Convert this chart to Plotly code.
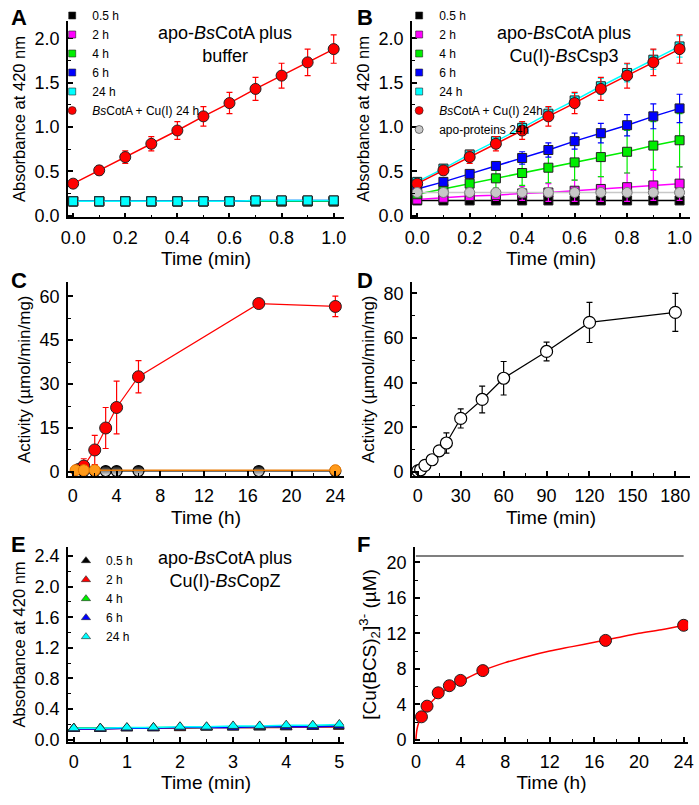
import plotly.graph_objects as go

# ── data ───────────────────────────────────────────────────────────────────────
t_min = [0.0, 0.1, 0.2, 0.3, 0.4, 0.5, 0.6, 0.7, 0.8, 0.9, 1.0]
labels_h = ["0.5 h", "2 h", "4 h", "6 h", "24 h"]
colors_h = ["#000000", "#FF00FF", "#00EE00", "#0000FF", "#00FFFF"]

# panel A: apo-BsCotA plus buffer
a_sq = [
    [0.16] * 11,
    [0.16] * 11,
    [0.16] * 11,
    [0.16, 0.16, 0.16, 0.16, 0.16, 0.16, 0.16, 0.17, 0.17, 0.17, 0.17],
    [0.16, 0.16, 0.16, 0.16, 0.16, 0.16, 0.16, 0.17, 0.17, 0.17, 0.17],
]
red_cu = [0.36, 0.51, 0.66, 0.81, 0.96, 1.12, 1.27, 1.43, 1.58, 1.73, 1.88]
red_cu_err = [0.03, 0.05, 0.07, 0.08, 0.10, 0.11, 0.12, 0.13, 0.14, 0.15, 0.16]

# panel B: apo-BsCotA plus Cu(I)-BsCsp3
b_sq = [
    [0.17] * 11,
    [0.18, 0.20, 0.22, 0.23, 0.25, 0.26, 0.28, 0.30, 0.32, 0.34, 0.36],
    [0.24, 0.30, 0.36, 0.42, 0.48, 0.54, 0.60, 0.66, 0.72, 0.79, 0.85],
    [0.30, 0.38, 0.47, 0.56, 0.65, 0.74, 0.84, 0.93, 1.02, 1.12, 1.21],
    [0.38, 0.53, 0.69, 0.84, 0.99, 1.15, 1.30, 1.46, 1.61, 1.76, 1.91],
]
b_sq_err = [
    [0.01] * 11,
    [0.02, 0.03, 0.04, 0.06, 0.08, 0.10, 0.12, 0.14, 0.16, 0.17, 0.19],
    [0.03, 0.05, 0.08, 0.11, 0.14, 0.17, 0.20, 0.22, 0.24, 0.27, 0.30],
    [0.02, 0.03, 0.04, 0.05, 0.07, 0.08, 0.09, 0.11, 0.12, 0.14, 0.16],
    [0.03, 0.03, 0.04, 0.05, 0.06, 0.07, 0.08, 0.09, 0.10, 0.11, 0.12],
]
apo_24h = [0.26] * 11
apo_24h_err = [0.01] * 11

# panel C: activity vs incubation time
c_t = [0.5, 1, 2, 3, 4, 6, 17, 24]
c_red = [0.8, 2.0, 7.5, 15.0, 22.0, 32.5, 57.5, 56.5]
c_red_err = [0.5, 2.5, 5.0, 7.0, 9.0, 5.5, 0.5, 3.5]
c_black = [0.3, 0.3, 0.3, 0.3, 0.3, 0.3, 0.3, 0.3]
c_orange_t = [0.25, 1, 2, 24]
c_orange = [0.6, 0.6, 0.6, 0.6]

# panel D: activity vs time (min)
d_t = [0, 2, 5, 10, 15, 20, 30, 45, 60, 90, 120, 180]
d_act = [0.5, 1.0, 3.0, 5.5, 9.5, 13.0, 24.0, 32.5, 42.0, 54.0, 67.0, 71.5]
d_err = [0.5, 1.0, 1.0, 1.0, 2.0, 4.5, 4.3, 6.0, 7.5, 4.2, 9.0, 8.5]

# panel E: apo-BsCotA plus Cu(I)-BsCopZ
e_t = [0.0, 0.5, 1.0, 1.5, 2.0, 2.5, 3.0, 3.5, 4.0, 4.5, 5.0]
colors_e = ["#000000", "#FF0000", "#00EE00", "#0000FF", "#00FFFF"]
e_tri = [
    [0.15, 0.15, 0.15, 0.15, 0.16, 0.16, 0.16, 0.16, 0.17, 0.17, 0.17],
    [0.14, 0.14, 0.15, 0.15, 0.15, 0.16, 0.16, 0.16, 0.16, 0.17, 0.17],
    [0.15, 0.15, 0.15, 0.16, 0.16, 0.16, 0.17, 0.17, 0.17, 0.18, 0.18],
    [0.14, 0.14, 0.15, 0.15, 0.16, 0.16, 0.16, 0.17, 0.17, 0.17, 0.18],
    [0.15, 0.15, 0.16, 0.16, 0.17, 0.17, 0.18, 0.18, 0.19, 0.19, 0.20],
]

# panel F: [Cu(BCS)2]3- release
f_t = [0.5, 1, 2, 3, 4, 6, 17, 24]
f_cu = [2.6, 3.8, 5.3, 6.1, 6.7, 7.8, 11.2, 12.9]
fit_t = [0, 0.1, 0.25, 0.5, 1, 1.5, 2, 3, 4, 5, 6, 8, 10, 12, 14, 16, 18, 20, 22, 24]
fit_cu = [0, 1.2, 1.9, 2.6, 3.6, 4.4, 5.0, 5.9, 6.6, 7.2, 7.8, 8.7, 9.4, 10.0,
          10.5, 11.0, 11.5, 12.0, 12.4, 12.9]
total_t = [0, 24]
total_cu = [20.7, 20.7]

FONT = "Arial, Liberation Sans, sans-serif"
OUTLINE = dict(color="#222222", width=1)


def err(vals, color):
    return dict(type="data", array=vals, visible=True, color=color,
                thickness=1.2, width=3)


def legend_dummy(fig, name, symbol, color, xa, ya, legend, size=7):
    fig.add_trace(go.Scatter(x=[None], y=[None], mode="markers", name=name,
                             marker=dict(symbol=symbol, color=color, size=size,
                                         line=dict(color="#222222", width=0.6)),
                             xaxis=xa, yaxis=ya, legend=legend))


fig = go.Figure()

# ── panel A ────────────────────────────────────────────────────────────────────
for i, ys in enumerate(a_sq):
    fig.add_trace(go.Scatter(x=t_min, y=ys, mode="lines+markers",
                             line=dict(color=colors_h[i], width=1.5),
                             marker=dict(symbol="square", size=9, color=colors_h[i], line=OUTLINE),
                             error_y=err([0.01] * 11, colors_h[i]),
                             showlegend=False, xaxis="x", yaxis="y"))
fig.add_trace(go.Scatter(x=t_min, y=red_cu, mode="lines+markers",
                         line=dict(color="#FF0000", width=1.5),
                         marker=dict(symbol="circle", size=11, color="#FF0000", line=OUTLINE),
                         error_y=err(red_cu_err, "#FF0000"),
                         showlegend=False, xaxis="x", yaxis="y"))
for i, lab in enumerate(labels_h):
    legend_dummy(fig, lab, "square", colors_h[i], "x", "y", "legend")
legend_dummy(fig, "<i>Bs</i>CotA + Cu(I) 24 h", "circle", "#FF0000", "x", "y", "legend", 8)

# ── panel B ────────────────────────────────────────────────────────────────────
for i, ys in enumerate(b_sq):
    fig.add_trace(go.Scatter(x=t_min, y=ys, mode="lines+markers",
                             line=dict(color=colors_h[i], width=1.5),
                             marker=dict(symbol="square", size=9, color=colors_h[i], line=OUTLINE),
                             error_y=err(b_sq_err[i], colors_h[i]),
                             showlegend=False, xaxis="x2", yaxis="y2"))
fig.add_trace(go.Scatter(x=t_min, y=red_cu, mode="lines+markers",
                         line=dict(color="#FF0000", width=1.5),
                         marker=dict(symbol="circle", size=11, color="#FF0000", line=OUTLINE),
                         error_y=err(red_cu_err, "#FF0000"),
                         showlegend=False, xaxis="x2", yaxis="y2"))
fig.add_trace(go.Scatter(x=t_min, y=apo_24h, mode="lines+markers",
                         line=dict(color="#C8C8C8", width=1.5),
                         marker=dict(symbol="circle", size=10, color="#C8C8C8",
                                     line=dict(color="#777777", width=1)),
                         error_y=err(apo_24h_err, "#999999"),
                         showlegend=False, xaxis="x2", yaxis="y2"))
for i, lab in enumerate(labels_h):
    legend_dummy(fig, lab, "square", colors_h[i], "x2", "y2", "legend2")
legend_dummy(fig, "<i>Bs</i>CotA + Cu(I) 24h", "circle", "#FF0000", "x2", "y2", "legend2", 8)
legend_dummy(fig, "apo-proteins 24h", "circle", "#C8C8C8", "x2", "y2", "legend2", 8)

# ── panel C ────────────────────────────────────────────────────────────────────
fig.add_trace(go.Scatter(x=c_t, y=c_red, mode="lines+markers",
                         line=dict(color="#FF0000", width=1.2),
                         marker=dict(symbol="circle", size=12, color="#FF0000", line=OUTLINE),
                         error_y=err(c_red_err, "#FF0000"),
                         showlegend=False, xaxis="x3", yaxis="y3"))
# half-filled circles: dark top fading to white bottom
fig.add_trace(go.Scatter(x=c_t, y=c_black, mode="lines+markers",
                         line=dict(color="#000000", width=1),
                         marker=dict(symbol="circle", size=11, color="#000000",
                                     gradient=dict(type="vertical", color="#FFFFFF"),
                                     line=dict(color="#000000", width=1.2)),
                         showlegend=False, xaxis="x3", yaxis="y3"))
fig.add_trace(go.Scatter(x=c_orange_t, y=c_orange, mode="lines+markers",
                         line=dict(color="#E87800", width=1.5),
                         marker=dict(symbol="circle", size=11, color="#FF9A1A",
                                     line=dict(color="#E87800", width=1)),
                         showlegend=False, xaxis="x3", yaxis="y3"))

# ── panel D ────────────────────────────────────────────────────────────────────
fig.add_trace(go.Scatter(x=d_t, y=d_act, mode="lines+markers",
                         line=dict(color="#000000", width=1.2),
                         marker=dict(symbol="circle", size=12, color="#FFFFFF",
                                     line=dict(color="#000000", width=1.2)),
                         error_y=err(d_err, "#000000"),
                         showlegend=False, xaxis="x4", yaxis="y4"))

# ── panel E ────────────────────────────────────────────────────────────────────
for i, ys in enumerate(e_tri):
    fig.add_trace(go.Scatter(x=e_t, y=ys, mode="lines+markers",
                             line=dict(color=colors_e[i], width=1.5),
                             marker=dict(symbol="triangle-up", size=10, color=colors_e[i],
                                         line=dict(color="#222222", width=0.8)),
                             error_y=err([0.01] * 11, colors_e[i]),
                             showlegend=False, xaxis="x5", yaxis="y5"))
for i, lab in enumerate(labels_h):
    legend_dummy(fig, lab, "triangle-up", colors_e[i], "x5", "y5", "legend3", 8)

# ── panel F ────────────────────────────────────────────────────────────────────
fig.add_trace(go.Scatter(x=total_t, y=total_cu, mode="lines",
                         line=dict(color="#000000", width=1.2),
                         showlegend=False, xaxis="x6", yaxis="y6"))
fig.add_trace(go.Scatter(x=fit_t, y=fit_cu, mode="lines",
                         line=dict(color="#FF0000", width=1.5, shape="spline"),
                         showlegend=False, xaxis="x6", yaxis="y6"))
fig.add_trace(go.Scatter(x=f_t, y=f_cu, mode="markers",
                         marker=dict(symbol="circle", size=12, color="#FF0000", line=OUTLINE),
                         showlegend=False, xaxis="x6", yaxis="y6"))

# ── axes ───────────────────────────────────────────────────────────────────────
W, H = 699, 805


def xdom(l, r):
    return [l / W, r / W]


def ydom(top, bottom):
    return [1 - bottom / H, 1 - top / H]


def axis(dom, rng, dtick, minor, title, fmt=None, tsize=19, standoff=5):
    a = dict(domain=dom, range=rng, dtick=dtick, tick0=0, showline=True,
             linecolor="black", linewidth=1.5, ticks="inside", ticklen=5,
             tickwidth=1.5, tickcolor="black", showgrid=False, zeroline=False,
             tickfont=dict(size=18, color="black"), ticklabelstandoff=3,
             minor=dict(dtick=minor, tick0=0, ticks="inside", ticklen=3,
                        tickwidth=1.2, tickcolor="black", showgrid=False),
             title=dict(text=title, font=dict(size=tsize, color="black"), standoff=standoff))
    if fmt:
        a["tickformat"] = fmt
    return a


xa_dom, xb_dom = xdom(62, 343), xdom(412, 695)
top_row, mid_row, bot_row = ydom(20, 219), ydom(285, 481), ydom(553, 750)
ABS = "Absorbance at 420 nm"

layout_axes = dict(
    xaxis=axis(xa_dom, [-0.02, 1.04], 0.2, 0.1, "Time (min)", ".1f"),
    yaxis=axis(top_row, [-0.02, 2.2], 0.5, 0.25, ABS, ".1f", tsize=16.5),
    xaxis2=dict(axis(xb_dom, [-0.02, 1.04], 0.2, 0.1, "Time (min)", ".1f"), anchor="y2"),
    yaxis2=dict(axis(top_row, [-0.02, 2.2], 0.5, 0.25, ABS, ".1f", tsize=16.5), anchor="x2"),
    xaxis3=dict(axis(xa_dom, [-0.45, 24.8], 4, 2, "Time (h)"), anchor="y3"),
    yaxis3=dict(axis(mid_row, [-1.4, 64.7], 15, 7.5, "Activity (µmol/min/mg)", tsize=17), anchor="x3"),
    xaxis4=dict(axis(xb_dom, [-4.1, 190.3], 30, 15, "Time (min)"), anchor="y4"),
    yaxis4=dict(axis(mid_row, [-1.8, 84.9], 20, 10, "Activity (µmol/min/mg)", tsize=17), anchor="x4"),
    xaxis5=dict(axis(xa_dom, [-0.11, 5.09], 1, 0.5, "Time (min)"), anchor="y5"),
    yaxis5=dict(axis(bot_row, [-0.026, 2.516], 0.4, 0.2, ABS, ".1f", tsize=16.5), anchor="x5"),
    xaxis6=dict(axis(xdom(415, 693), [-0.09, 24.4], 4, 2, "Time (h)"), anchor="y6"),
    yaxis6=dict(axis(bot_row, [-0.2, 21.7], 4, 2,
                     "[Cu(BCS)<sub>2</sub>]<sup>3-</sup> (µM)"), anchor="x6"),
)
layout_axes["xaxis"]["anchor"] = "y"
layout_axes["yaxis"]["anchor"] = "x"

legend_style = dict(font=dict(size=12, color="black"), bgcolor="rgba(0,0,0,0)",
                    borderwidth=0, xanchor="left", yanchor="top", tracegroupgap=0,
                    itemclick=False)

fig.update_layout(
    width=W, height=H, margin=dict(l=0, r=0, t=0, b=0),
    plot_bgcolor="white", paper_bgcolor="white",
    font=dict(family=FONT, color="black"),
    legend=dict(legend_style, x=46 / W, y=1.0),
    legend2=dict(legend_style, x=399 / W, y=1.0),
    legend3=dict(legend_style, x=60 / W, y=1 - 552 / H),
    **layout_axes,
)

# ── text annotations ───────────────────────────────────────────────────────────
notes = [
    ("<b>A</b>", 2, 2, 22), ("<b>B</b>", 354, 2, 22), ("<b>C</b>", 2, 268, 22),
    ("<b>D</b>", 354, 268, 22), ("<b>E</b>", 2, 536, 22), ("<b>F</b>", 354, 536, 22),
]
for txt, x, y, s in notes:
    fig.add_annotation(text=txt, x=x / W, y=1 - y / H, xref="paper", yref="paper",
                       xanchor="left", yanchor="top", showarrow=False,
                       font=dict(size=s, color="black"))

titles = [
    ("apo-<i>Bs</i>CotA plus<br>buffer", 222, 20),
    ("apo-<i>Bs</i>CotA plus<br>Cu(I)-<i>Bs</i>Csp3", 567, 20),
    ("apo-<i>Bs</i>CotA plus<br>Cu(I)-<i>Bs</i>CopZ", 222, 552),
]
for txt, x, y in titles:
    fig.add_annotation(text=txt, x=x / W, y=1 - y / H, xref="paper", yref="paper",
                       xanchor="center", yanchor="top", showarrow=False,
                       font=dict(size=18, color="black"))

fig.write_html("out.html", config={"displayModeBar": False},
               post_script="document.body.style.margin='0px';"
                           "document.body.style.overflow='hidden';")
